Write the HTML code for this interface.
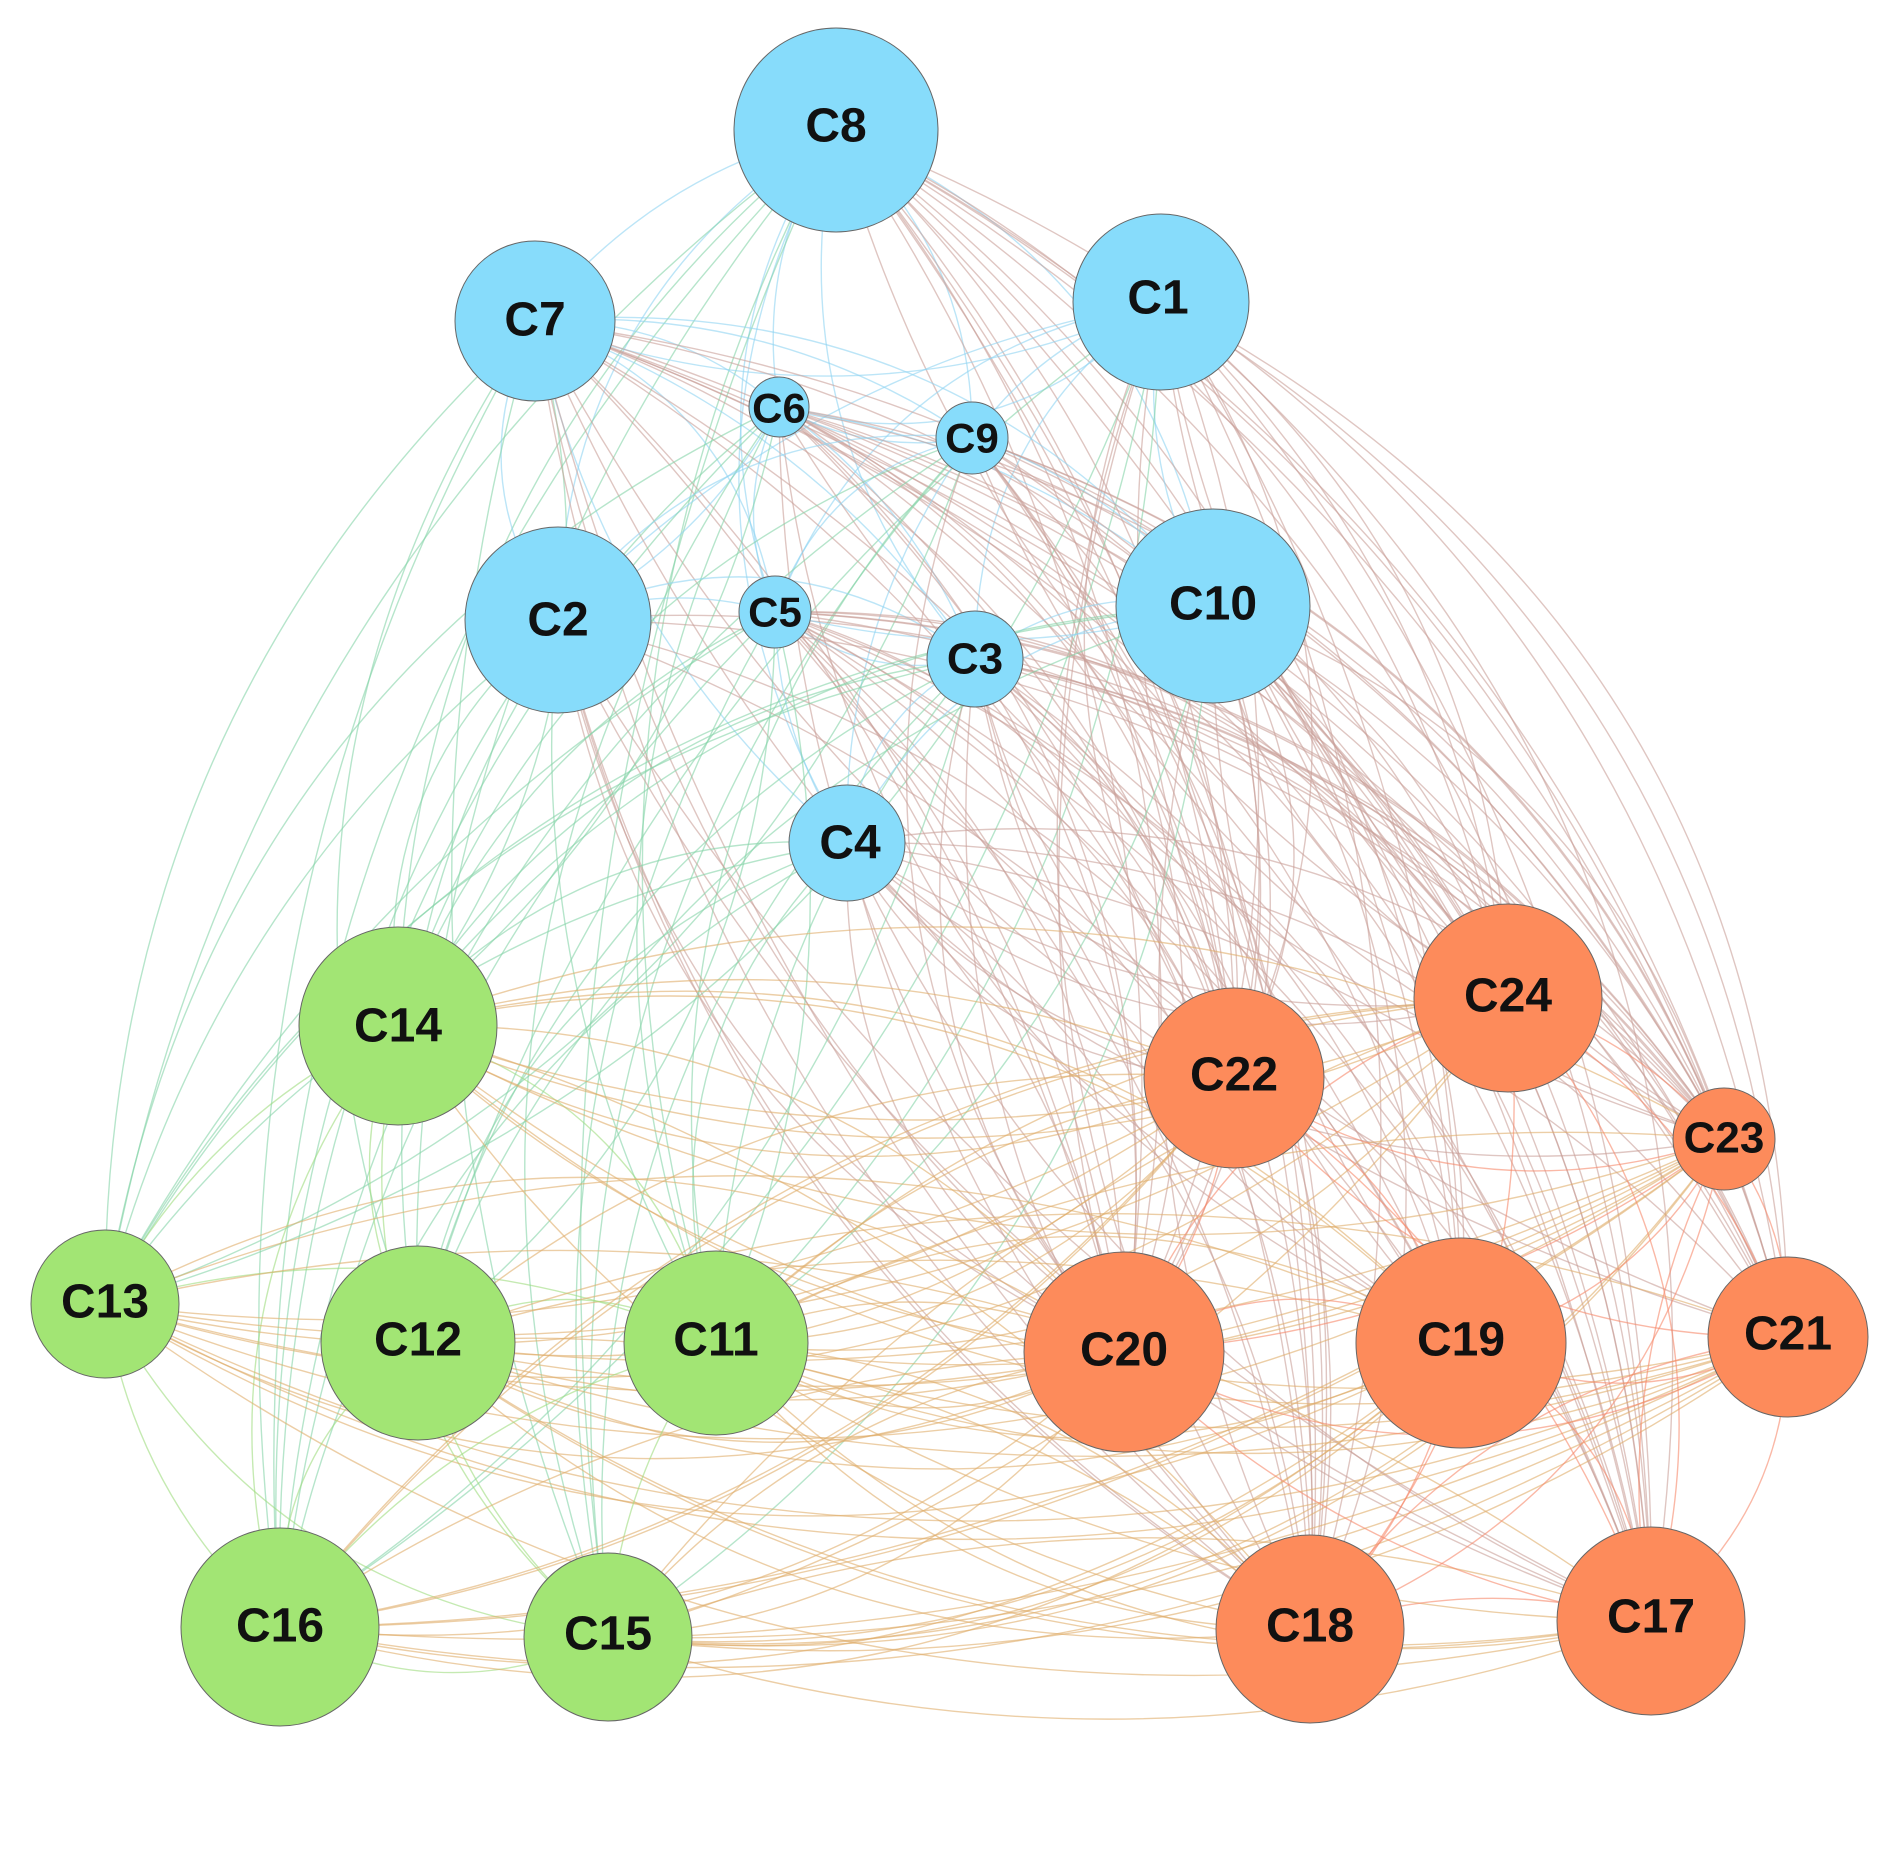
<!DOCTYPE html>
<html><head><meta charset="utf-8"><style>
html,body{margin:0;padding:0;background:#fff;}
svg{display:block}
text{font-family:"Liberation Sans",Arial,sans-serif;font-weight:bold;fill:#111;text-anchor:middle;dominant-baseline:central}
</style></head><body>
<svg id="s" width="1888" height="1866" viewBox="0 0 1888 1866" xmlns="http://www.w3.org/2000/svg">
<g id="edges" fill="none"></g>
<g id="nodes" stroke="#666" stroke-width="1">
<circle cx="836" cy="130" r="102" fill="#87dcfb"/>
<circle cx="1161" cy="302" r="88" fill="#87dcfb"/>
<circle cx="535" cy="321" r="80" fill="#87dcfb"/>
<circle cx="779" cy="407" r="30" fill="#87dcfb"/>
<circle cx="972" cy="438" r="36" fill="#87dcfb"/>
<circle cx="558" cy="620" r="93" fill="#87dcfb"/>
<circle cx="775" cy="612" r="36" fill="#87dcfb"/>
<circle cx="975" cy="659" r="48" fill="#87dcfb"/>
<circle cx="1213" cy="606" r="97" fill="#87dcfb"/>
<circle cx="847" cy="843" r="58" fill="#87dcfb"/>
<circle cx="398" cy="1026" r="99" fill="#a2e574"/>
<circle cx="105" cy="1304" r="74" fill="#a2e574"/>
<circle cx="418" cy="1343" r="97" fill="#a2e574"/>
<circle cx="716" cy="1343" r="92" fill="#a2e574"/>
<circle cx="280" cy="1627" r="99" fill="#a2e574"/>
<circle cx="608" cy="1637" r="84" fill="#a2e574"/>
<circle cx="1234" cy="1078" r="90" fill="#fd8b5b"/>
<circle cx="1508" cy="998" r="94" fill="#fd8b5b"/>
<circle cx="1724" cy="1139" r="51" fill="#fd8b5b"/>
<circle cx="1124" cy="1352" r="100" fill="#fd8b5b"/>
<circle cx="1461" cy="1343" r="105" fill="#fd8b5b"/>
<circle cx="1788" cy="1337" r="80" fill="#fd8b5b"/>
<circle cx="1310" cy="1629" r="94" fill="#fd8b5b"/>
<circle cx="1651" cy="1621" r="94" fill="#fd8b5b"/>
</g>
<g font-size="48">
<text x="836" y="126">C8</text>
<text x="1158" y="298">C1</text>
<text x="535" y="320">C7</text>
<text x="779" y="408" font-size="42">C6</text>
<text x="972" y="438" font-size="42">C9</text>
<text x="558" y="620">C2</text>
<text x="775" y="612" font-size="42">C5</text>
<text x="975" y="659" font-size="44">C3</text>
<text x="1213" y="604">C10</text>
<text x="850" y="843">C4</text>
<text x="398" y="1026">C14</text>
<text x="105" y="1302">C13</text>
<text x="418" y="1340">C12</text>
<text x="716" y="1340">C11</text>
<text x="280" y="1626">C16</text>
<text x="608" y="1634">C15</text>
<text x="1234" y="1075">C22</text>
<text x="1508" y="996">C24</text>
<text x="1724" y="1138" font-size="44">C23</text>
<text x="1124" y="1350">C20</text>
<text x="1461" y="1340">C19</text>
<text x="1788" y="1334">C21</text>
<text x="1310" y="1626">C18</text>
<text x="1651" y="1617">C17</text>
</g>
</svg>
<script>
var N=[[836,130,0],[1161,302,0],[535,321,0],[779,407,0],[972,438,0],[558,620,0],[775,612,0],[975,659,0],[1213,606,0],[847,843,0],
[398,1026,1],[105,1304,1],[418,1343,1],[716,1343,1],[280,1627,1],[608,1637,1],
[1234,1078,2],[1508,998,2],[1724,1139,2],[1124,1352,2],[1461,1343,2],[1788,1337,2],[1310,1629,2],[1651,1621,2]];
var col={"00":"#8fd3f2","11":"#9fdc7e","22":"#f7896a","01":"#86d4a8","02":"#c9a09a","12":"#e0ae6a"};
var seed=7;function rnd(){seed=(seed*16807)%2147483647;return seed/2147483647;}
var g=document.getElementById('edges'),h='';
var cx=944,cy=1000;
for(var i=0;i<N.length;i++)for(var j=i+1;j<N.length;j++){
 var a=N[i],b=N[j];var k=""+Math.min(a[2],b[2])+Math.max(a[2],b[2]);
 if(rnd()<0.1)continue;
 var n=(k=="02"||k=="12")?2:1;
 for(var m=0;m<n;m++){
 var mx=(a[0]+b[0])/2,my=(a[1]+b[1])/2,dx=b[0]-a[0],dy=b[1]-a[1],L=Math.sqrt(dx*dx+dy*dy);
 var px=-dy/L,py=dx/L;
 var s=((mx-cx)*px+(my-cy)*py)>0?1:-1;
 if(rnd()<0.25)s=-s;
 var off=L*(0.14+0.16*rnd())*s;
 h+='<path d="M'+a[0]+' '+a[1]+' Q'+(mx+px*off).toFixed(1)+' '+(my+py*off).toFixed(1)+' '+b[0]+' '+b[1]+'" stroke="'+col[k]+'" stroke-width="1.4" stroke-opacity="0.6"/>';
 }
}
g.innerHTML=h;
</script>
</body></html>
